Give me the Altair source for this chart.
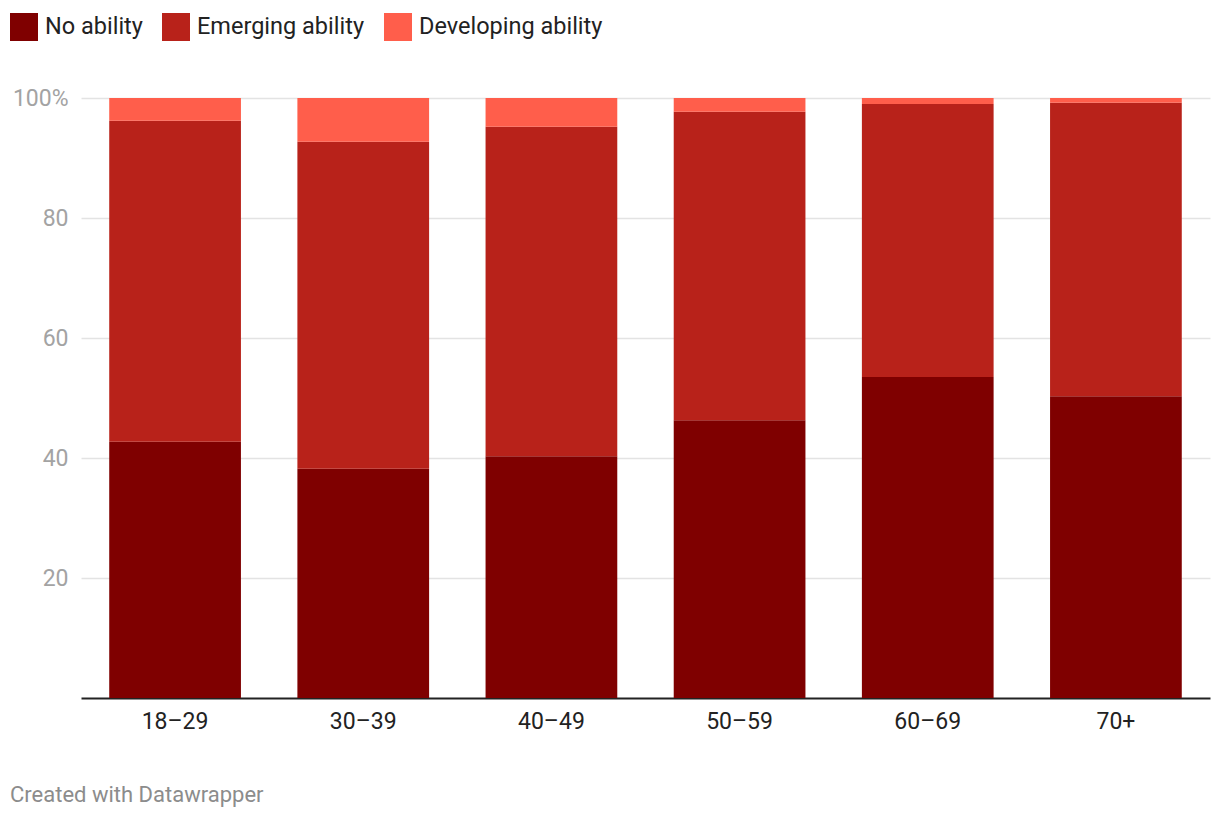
import altair as alt
import pandas as pd

groups = ["18–29", "30–39", "40–49", "50–59", "60–69", "70+"]
series = ["No ability", "Emerging ability", "Developing ability"]
no_ability = [42.7, 38.2, 40.3, 46.3, 53.5, 50.3]
emerging_ability = [53.5, 54.5, 54.9, 51.4, 45.5, 48.9]
developing_ability = [3.8, 7.3, 4.8, 2.3, 1.0, 0.8]
colors = ["#7f0000", "#b8221a", "#ff5e4b"]

rows = []
for i, g in enumerate(groups):
    for k, (s, vals) in enumerate(zip(series, [no_ability, emerging_ability, developing_ability])):
        rows.append({"group": g, "series": s, "value": vals[i], "ord": k})
df = pd.DataFrame(rows)

chart = alt.Chart(df).mark_bar().encode(
    x=alt.X("group:N", sort=groups, title=None,
            scale=alt.Scale(paddingInner=0.3, paddingOuter=0.15),
            axis=alt.Axis(labelAngle=0, labelFontSize=23, labelColor="#222",
                          labelFont="Roboto", labelPadding=12, ticks=False,
                          domainColor="#222", domainWidth=2, grid=False)),
    y=alt.Y("value:Q", stack="zero", title=None,
            scale=alt.Scale(domain=[0, 100], nice=False),
            axis=alt.Axis(values=[0, 20, 40, 60, 80, 100],
                          labelExpr="datum.value == 100 ? '100%' : (datum.value == 0 ? '' : datum.label)",
                          labelFontSize=23, labelColor="#a3a3a3", labelFont="Roboto",
                          labelPadding=13, ticks=False, domain=False,
                          grid=True, gridColor="#e3e3e3", gridWidth=1.5,
                          gridOpacity=alt.ExprRef("datum.value == 0 ? 0 : 1"))),
    color=alt.Color("series:N", sort=series,
                    scale=alt.Scale(domain=series, range=colors),
                    legend=alt.Legend(title=None, orient="none", direction="horizontal",
                                      legendX=-71, legendY=-85,
                                      symbolType="square", symbolSize=784,
                                      symbolStrokeWidth=0, symbolOpacity=1,
                                      labelFontSize=23.5, labelFont="Roboto",
                                      labelColor="#222", labelOffset=7,
                                      labelLimit=0, columnPadding=19)),
    order=alt.Order("ord:Q", sort="ascending"),
).properties(
    width=1129,
    height=600,
    autosize=alt.AutoSizeParams(type="none"),
    padding={"left": 73, "top": 90, "right": 2, "bottom": 112},
    title=alt.TitleParams("Created with Datawrapper", orient="bottom", anchor="start",
                          frame="group", dx=-71, offset=52, fontSize=22,
                          font="Roboto", fontWeight="normal", color="#8c8c8c"),
).configure_view(stroke=None)

chart.save("out.html", embed_options={"renderer": "svg", "actions": False})
